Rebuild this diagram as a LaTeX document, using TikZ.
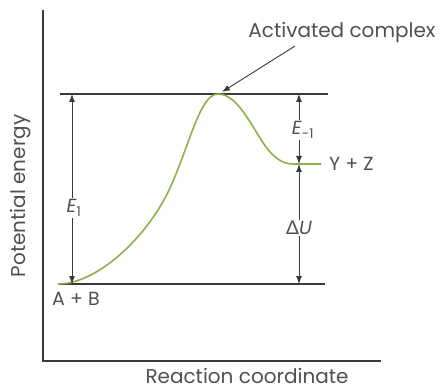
\documentclass[tikz,border=0pt]{standalone}
\usepackage{fontspec}
\setmainfont{Poppins}
\newfontfamily\grk{Lato}
\usetikzlibrary{arrows.meta}
\definecolor{ink}{HTML}{3A3A3A}
\definecolor{txt}{HTML}{505050}
\definecolor{curvegreen}{HTML}{8DB04C}
\tikzset{
  axisline/.style={draw=ink, line width=1.2pt},
  levelline/.style={draw=ink, line width=1.1pt},
  dimarrow/.style={draw=ink, line width=0.9pt, {Latex[length=8pt,width=6pt]}-{Latex[length=8pt,width=6pt]}},
  callout/.style={draw=ink, line width=0.9pt, -{Latex[length=8pt,width=6pt]}},
  lbl/.style={text=txt, font=\fontsize{19}{21}\selectfont, inner sep=1pt},
  dimlbl/.style={lbl, fill=white, inner sep=1.5pt},
}
\begin{document}
\begin{tikzpicture}[x=1pt,y=-1pt]
\useasboundingbox (0,0) rectangle (444,390);
% axes
\coordinate (ytop) at (43,10);
\coordinate (orig) at (43,361);
\coordinate (xend) at (381,361);
\draw[axisline] (ytop) -- (orig) -- (xend);
% level lines
\coordinate (tl) at (60,94);
\coordinate (tr) at (328,94);
\coordinate (bl) at (58,284);
\coordinate (br) at (325,284);
\draw[levelline] (tl) -- (tr);
\draw[levelline] (bl) -- (br);
% energy curve
\draw[curvegreen, line width=1.6pt]
  (58,284) .. controls (98,284) and (148,236) .. (170,188)
  .. controls (190,144) and (200,94) .. (218,94)
  .. controls (240,94) and (255,135) .. (270,152)
  .. controls (280,162) and (285,164) .. (295,164) -- (321,164);
% E1
\coordinate (e1t) at (72,94);
\coordinate (e1b) at (72,284);
\draw[dimarrow] (e1t) -- (e1b);
\node[dimlbl] (E1) at (74,208) {\textit{E}\textsubscript{1}};
% E-1 and Delta U
\coordinate (rt) at (299,94);
\coordinate (rm) at (299,164);
\coordinate (rb) at (299,284);
\draw[dimarrow] (rt) -- (rm);
\draw[dimarrow] (rm) -- (rb);
\node[dimlbl] (Em1) at (303,130) {\textit{E}\textsubscript{-1}};
\node[dimlbl] (dU) at (299,228) {{\grk Δ}\textit{U}};
% species labels
\node[lbl, anchor=west] (YZ) at (328,164) {Y + Z};
\node[lbl] (AB) at (76,299) {A + B};
% activated complex
\node[lbl, font=\fontsize{20}{22}\selectfont] (AC) at (342,32) {Activated complex};
\coordinate (peak) at (222,92);
\draw[callout] (295,46) -- (peak);
% axis titles
\node[lbl, font=\fontsize{20}{22}\selectfont, rotate=90] (PE) at (21,196) {Potential energy};
\node[lbl, font=\fontsize{20}{22}\selectfont, anchor=base] (RC) at (247,383) {Reaction coordinate};
\end{tikzpicture}
\end{document}
